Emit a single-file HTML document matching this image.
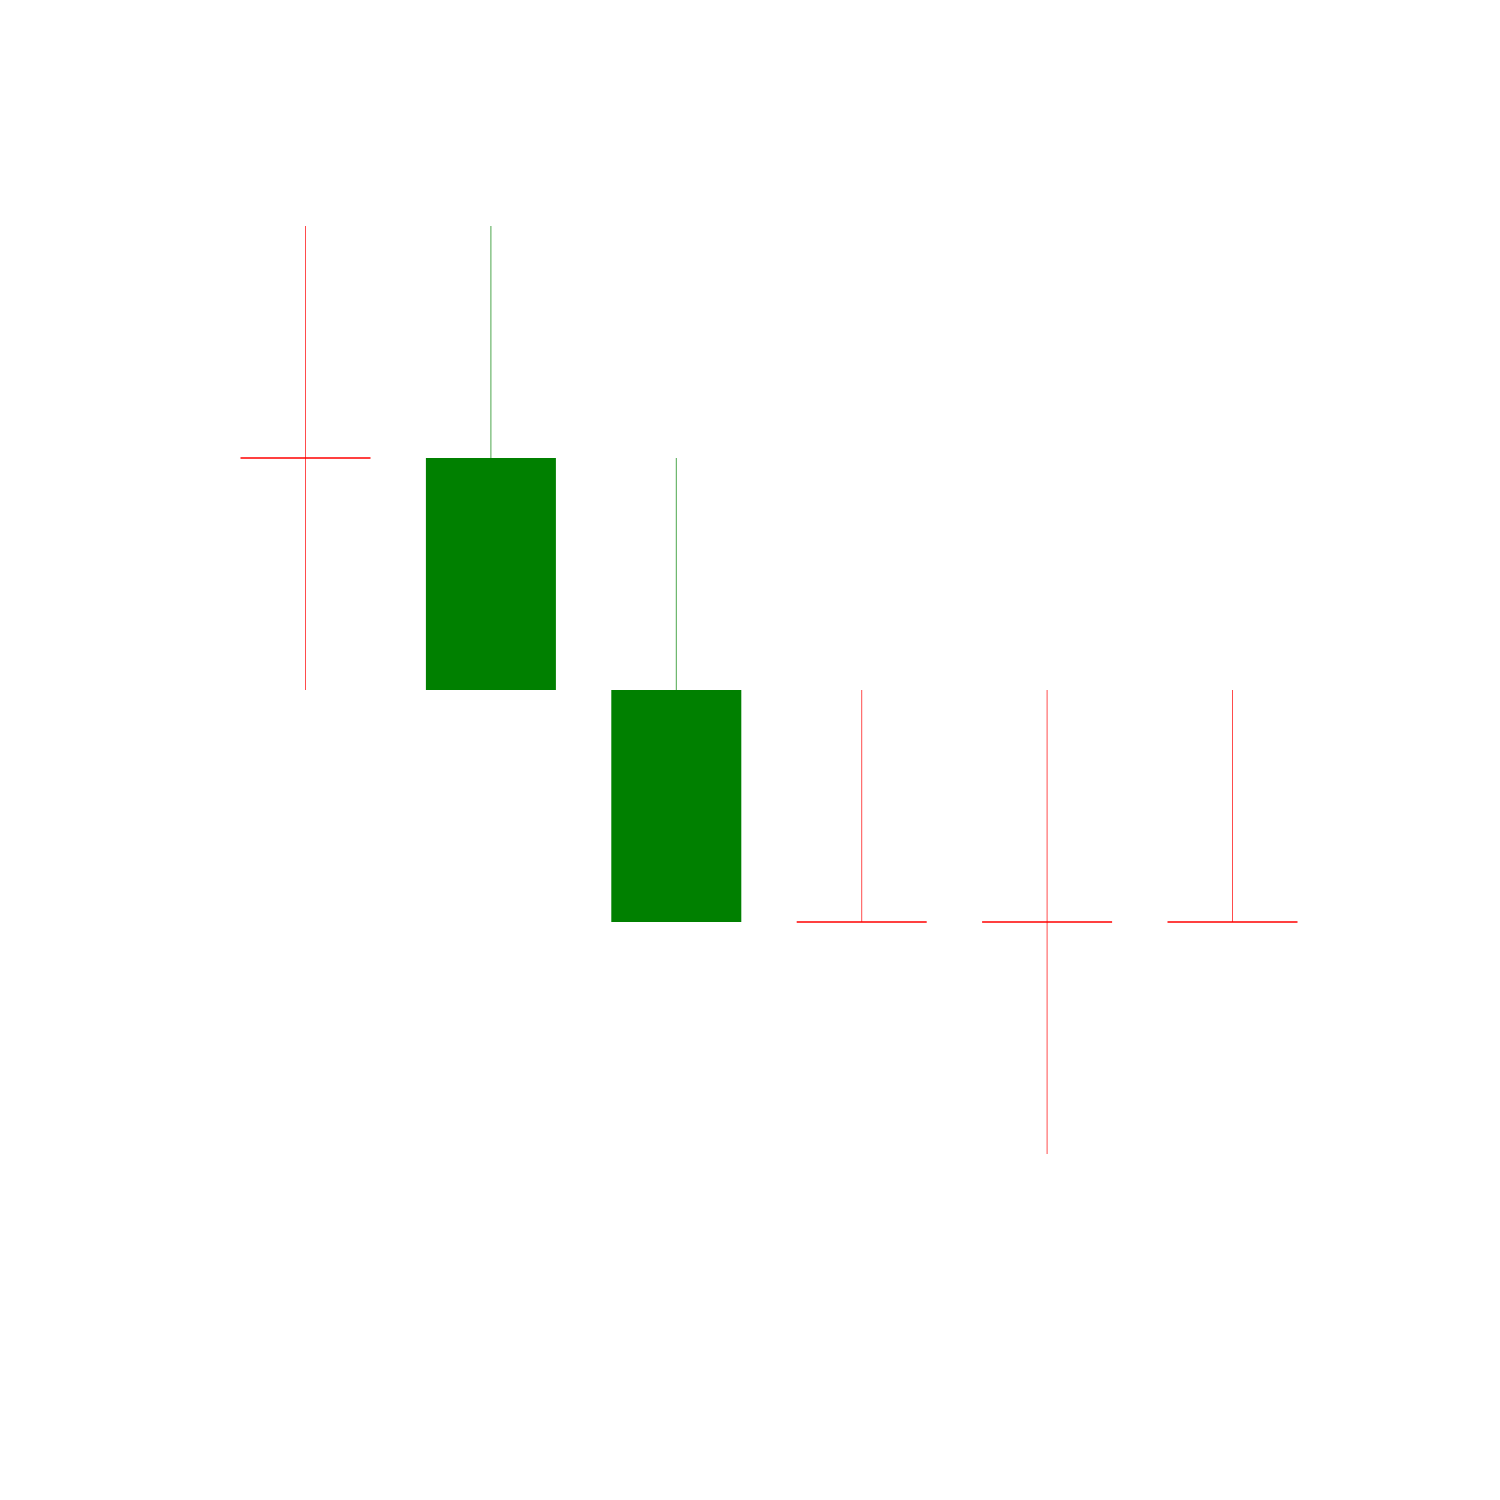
<!DOCTYPE html>
<html><head><meta charset="utf-8"><style>html,body{margin:0;padding:0;background:#fff;}svg{display:block;}</style></head>
<body>
<svg id="chart" width="1500" height="1500" xmlns="http://www.w3.org/2000/svg"></svg>
<script>
const categories = ["c1","c2","c3","c4","c5","c6"];
const opens  = [3, 2, 1, 1, 1, 1];
const closes = [3, 3, 2, 1, 1, 1];
const highs  = [4, 4, 3, 2, 2, 2];
const lows   = [2, 2, 1, 1, 0, 1];

const svg = document.getElementById('chart');
const NS = 'http://www.w3.org/2000/svg';
function xScale(i){ return 305.5 + i * 185.4; }
function yScale(v){ return 1154 - v * 232; }
const bw = 130;

categories.forEach((c, i) => {
  const x = xScale(i);
  const up = closes[i] > opens[i];
  const down = closes[i] < opens[i];
  const col = (up) ? '#008000' : '#ff0000';
  const g = document.createElementNS(NS, 'g');
  
  
  const w = document.createElementNS(NS, 'line');
  
  
  w.setAttribute('x1', x); w.setAttribute('x2', x);
  w.setAttribute('y1', yScale(highs[i])); w.setAttribute('y2', yScale(lows[i]));
  w.setAttribute('stroke', col); w.setAttribute('stroke-width', 1); w.setAttribute('stroke-opacity', 0.7);
  g.appendChild(w);
  const top = yScale(Math.max(opens[i], closes[i]));
  const bot = yScale(Math.min(opens[i], closes[i]));
  if (bot - top < 1) {
    const l = document.createElementNS(NS, 'line');
    
    
    l.setAttribute('x1', x - bw/2); l.setAttribute('x2', x + bw/2);
    l.setAttribute('y1', top); l.setAttribute('y2', top);
    l.setAttribute('stroke', col); l.setAttribute('stroke-width', 1.5);
    g.appendChild(l);
  } else {
    const r = document.createElementNS(NS, 'rect');
    
    
    r.setAttribute('x', x - bw/2); r.setAttribute('y', top);
    r.setAttribute('width', bw); r.setAttribute('height', bot - top);
    r.setAttribute('fill', col);
    g.appendChild(r);
  }
  svg.appendChild(g);
});
</script>
</body></html>
